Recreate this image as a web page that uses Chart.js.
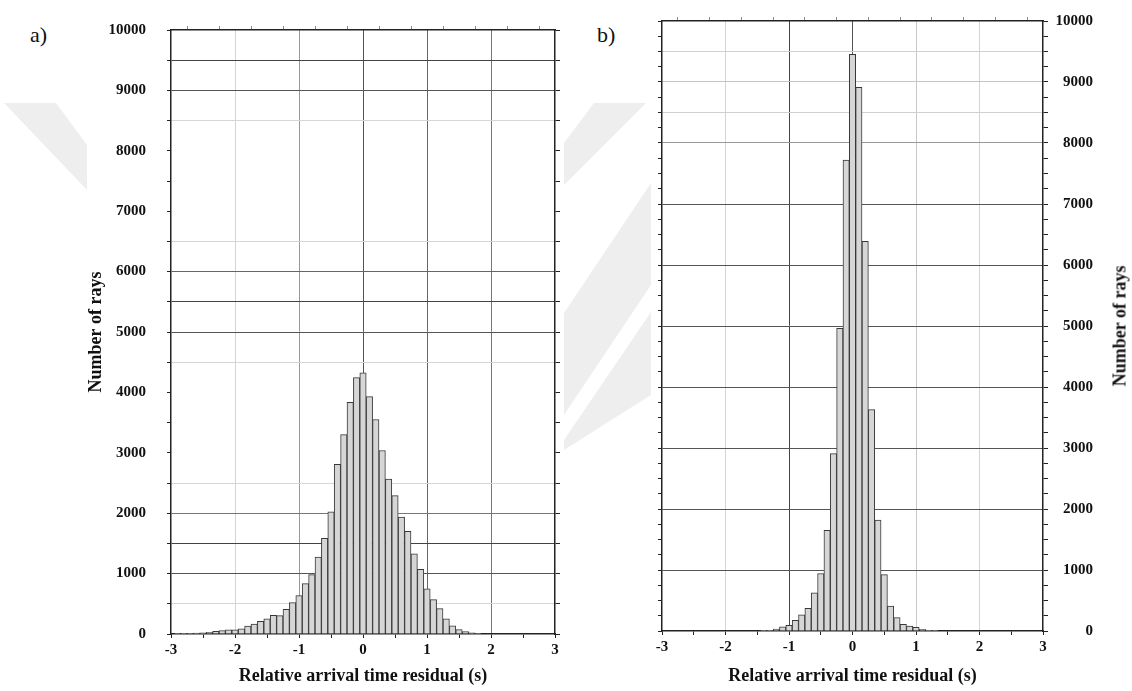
<!DOCTYPE html>
<html>
<head>
<meta charset="utf-8">
<title>Relative arrival time residuals</title>
<script src="https://cdn.jsdelivr.net/npm/chart.js@4.4.1/dist/chart.umd.min.js"></script>
<style>
  body {
    margin: 0;
    width: 1132px;
    height: 691px;
    overflow: hidden;
    position: relative;
    background: #fff;
    font-family: 'Liberation Serif', 'DejaVu Serif', serif;
  }
  canvas { position: absolute; top: 0; }
  #chart-a { left: 0; }
  #chart-b { left: 566px; }
  .panel-tag {
    position: absolute;
    font-size: 22px;
    color: #111;
  }
  #title-b {
    position: absolute;
    left: 1120px;
    top: 326px;
    transform: translate(-50%, -50%) rotate(-90deg);
    white-space: nowrap;
    font-size: 18px;
    font-weight: bold;
    color: #111;
  }
  /* faint watermark bands of the scanned page */
  .mark {
    position: absolute;
    left: 0; top: 0;
    width: 1132px; height: 691px;
    background: #eeeeee;
  }
</style>
</head>
<body>
<div class="mark" style="clip-path: polygon(4px 103px, 56px 103px, 87px 145px, 87px 190px);"></div>
<div class="mark" style="clip-path: polygon(594px 103px, 646px 103px, 564px 185px, 564px 143px);"></div>
<div class="mark" style="clip-path: polygon(651px 183px, 651px 285px, 564px 415px, 564px 313px);"></div>
<div class="mark" style="clip-path: polygon(651px 312px, 651px 395px, 564px 450px, 564px 440px);"></div>
<div class="panel-tag" style="left:30px; top:22px;">a)</div>
<div class="panel-tag" style="left:597px; top:22px;">b)</div>
<canvas id="chart-a" width="566" height="691"></canvas>
<canvas id="chart-b" width="566" height="691"></canvas>
<div id="title-b">Number of rays</div>

<script>
// Histogram a) : bin centres (s) and counts
const binsA = [
  -2.9, -2.8, -2.7, -2.6, -2.5, -2.4, -2.3, -2.2, -2.1, -2.0,
  -1.9, -1.8, -1.7, -1.6, -1.5, -1.4, -1.3, -1.2, -1.1, -1.0,
  -0.9, -0.8, -0.7, -0.6, -0.5, -0.4, -0.3, -0.2, -0.1, 0.0,
  0.1, 0.2, 0.3, 0.4, 0.5, 0.6, 0.7, 0.8, 0.9, 1.0,
  1.1, 1.2, 1.3, 1.4, 1.5, 1.6, 1.7, 1.8
];
const countsA = [
  3, 6, 10, 15, 18, 28, 44, 55, 67, 70,
  85, 130, 166, 208, 252, 308, 305, 407, 520, 635,
  835, 984, 1273, 1585, 2022, 2809, 3301, 3836, 4244, 4325,
  3930, 3552, 3038, 2563, 2290, 1934, 1699, 1328, 1071, 748,
  568, 420, 250, 135, 72, 40, 18, 6
];

// Histogram b) : bin centres (s) and counts
const binsB = [
  -1.4, -1.3, -1.2, -1.1, -1.0, -0.9, -0.8, -0.7, -0.6, -0.5,
  -0.4, -0.3, -0.2, -0.1, 0.0, 0.1, 0.2, 0.3, 0.4, 0.5,
  0.6, 0.7, 0.8, 0.9, 1.0, 1.1, 1.2, 1.3
];
const countsB = [
  5, 12, 30, 70, 92, 175, 267, 370, 624, 943,
  1650, 2907, 4960, 7721, 9454, 8913, 6388, 3628, 1820, 924,
  408, 220, 109, 80, 60, 27, 11, 4
];

// axis ranges and tick labels
const xRange = [-3, 3];
const yRange = [0, 10000];
const xTickLabels = ['-3', '-2', '-1', '0', '1', '2', '3'];

const FONT = "'Liberation Serif', 'DejaVu Serif', serif";
const AXIS = '#222';
const TEXT = '#111';

// grid line shades, as they appear in the scanned figure
const gridA_y = { 500: '#d6d6d6', 1000: '#555', 1500: '#444', 2000: '#777', 2500: '#d6d6d6',
  4500: '#d6d6d6', 5000: '#555', 5500: '#444', 6000: '#666', 6500: '#d6d6d6',
  8500: '#d6d6d6', 9000: '#555', 9500: '#444' };
const gridA_x = { '-2': '#d4d4d4', '-1': '#999', '0': '#555', '1': '#666', '2': '#777' };
const gridB_y = { 1000: '#555', 2000: '#555', 3000: '#555', 4000: '#555', 5000: '#555',
  6000: '#555', 7000: '#555', 8000: '#999', 8500: '#d0d0d0', 9000: '#c4c4c4', 9500: '#d0d0d0' };
const gridB_x = { '-2': '#d4d4d4', '-1': '#444', '0': '#555', '1': '#c8c8c8', '2': '#d4d4d4' };

function shade(map) {
  return function(ctx) {
    if (!ctx.tick) return 'rgba(0,0,0,0)';
    const v = Math.round(ctx.tick.value * 100) / 100;
    return map[String(v)] || 'rgba(0,0,0,0)';
  };
}

function xLabel(v) {
  if (!Number.isInteger(v)) return '';
  return xTickLabels[v - xRange[0]];
}

function yLabel(v) {
  return v % 1000 === 0 ? String(v) : '';
}

const tickFont = { family: FONT, size: 15, weight: 'bold' };
const titleFont = { family: FONT, size: 18, weight: 'bold' };

function buildHistogram(canvasId, bins, counts, sizes, opts) {
  const ctx = document.getElementById(canvasId).getContext('2d');
  return new Chart(ctx, {
    type: 'bar',
    data: {
      datasets: [{
        data: bins.map((b, i) => ({ x: b, y: counts[i] })),
        backgroundColor: '#d6d6d6',
        borderColor: '#383838',
        borderWidth: 1,
        barPercentage: 1,
        categoryPercentage: 1,
        grouped: false
      }]
    },
    options: {
      responsive: false,
      animation: false,
      layout: { padding: { left: 0, top: 0, bottom: 0, right: sizes.padRight } },
      plugins: {
        legend: { display: false },
        tooltip: { enabled: false }
      },
      scales: {
        x: {
          type: 'linear',
          position: 'bottom',
          min: xRange[0],
          max: xRange[1],
          offset: false,
          z: 1,
          ticks: {
            stepSize: 0.5,
            autoSkip: false,
            maxRotation: 0,
            padding: 3,
            color: TEXT,
            font: tickFont,
            callback: xLabel
          },
          grid: {
            offset: false,
            color: shade(opts.gridX),
            tickColor: AXIS,
            tickLength: 4
          },
          border: { color: AXIS, width: 1.5 },
          title: {
            display: true,
            text: 'Relative arrival time residual (s)',
            color: TEXT,
            font: titleFont,
            padding: { top: 0, bottom: 4 }
          },
          afterFit: function(scale) { scale.height = sizes.bottom; }
        },
        xTop: {
          type: 'linear',
          position: 'top',
          min: xRange[0],
          max: xRange[1],
          offset: false,
          ticks: { display: false, stepSize: 0.5 },
          grid: { drawOnChartArea: false, tickColor: '#888', tickLength: 4 },
          border: { color: AXIS, width: 1.5 },
          afterFit: function(scale) { scale.height = sizes.top; }
        },
        y: {
          type: 'linear',
          position: 'left',
          min: yRange[0],
          max: yRange[1],
          z: 1,
          ticks: {
            display: opts.labelsLeft,
            stepSize: opts.minorY,
            autoSkip: false,
            padding: 21,
            color: TEXT,
            font: tickFont,
            callback: yLabel
          },
          grid: {
            color: shade(opts.gridY),
            tickColor: AXIS,
            tickLength: 4
          },
          border: { color: AXIS, width: 1.5 },
          title: {
            display: opts.labelsLeft,
            text: 'Number of rays',
            color: TEXT,
            font: titleFont,
            padding: { top: 86, bottom: 0 }
          },
          afterFit: function(scale) { scale.width = sizes.left; }
        },
        yRight: {
          type: 'linear',
          position: 'right',
          min: yRange[0],
          max: yRange[1],
          ticks: {
            display: !opts.labelsLeft,
            stepSize: opts.minorY,
            autoSkip: false,
            padding: 8,
            crossAlign: 'far',
            color: TEXT,
            font: tickFont,
            callback: yLabel
          },
          grid: { drawOnChartArea: false, tickColor: AXIS, tickLength: 5 },
          border: { color: AXIS, width: 1.5 },
          afterFit: function(scale) { scale.width = sizes.right; }
        }
      }
    }
  });
}

buildHistogram('chart-a', binsA, countsA,
  { left: 171, right: 11, top: 19, bottom: 57, padRight: 0 },
  { gridX: gridA_x, gridY: gridA_y, labelsLeft: true, minorY: 500 });

buildHistogram('chart-b', binsB, countsB,
  { left: 96, right: 50, top: 21, bottom: 60, padRight: 39 },
  { gridX: gridB_x, gridY: gridB_y, labelsLeft: false, minorY: 250 });
</script>
</body>
</html>
